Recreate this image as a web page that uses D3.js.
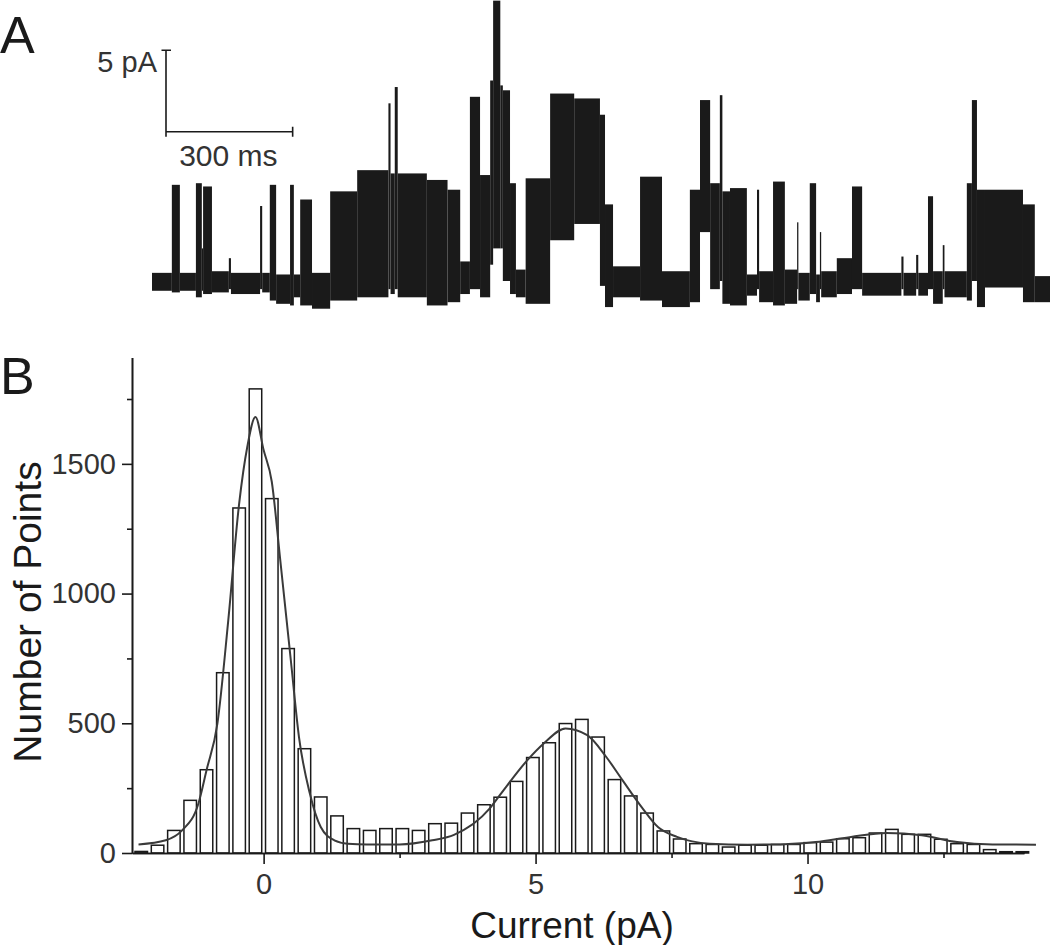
<!DOCTYPE html>
<html lang="en">
<head>
<meta charset="UTF-8">
<title>Single channel trace and amplitude histogram</title>
<style>
  body { margin: 0; background: #fff; }
  svg { display: block; font-family: "Liberation Sans", Arial, Helvetica, sans-serif; }
</style>
</head>
<body>
<svg id="fig" width="1050" height="945"></svg>
<script src="https://d3js.org/d3.v7.min.js"></script>
<script>
// Panel A: recording read as blocks [start ms, end ms, low pA, high pA]
var traceBlocks = [
  [0, 47, -0.6, 0.5], [47, 66, -0.7, 5.9], [66, 104, -0.6, 0.5], [104, 118, -1.0, 6.0],
  [118, 121, -0.6, 2.0], [121, 142, -0.8, 5.8], [142, 182, -0.7, 0.6], [182, 187, -0.5, 1.4],
  [187, 256, -0.8, 0.5], [256, 261, -0.5, 4.6], [261, 279, -0.7, 0.5], [279, 294, -1.2, 5.9],
  [294, 327, -1.4, 0.4], [327, 336, -1.5, 5.9], [336, 351, -1.0, 0.4], [351, 379, -1.5, 5.0],
  [379, 422, -1.7, 0.5], [422, 486, -1.2, 5.5], [486, 560, -1.0, 6.8], [560, 565, -0.5, 10.9],
  [565, 575, -0.8, 6.6], [575, 582, -0.5, 11.9], [582, 651, -1.0, 6.6], [651, 700, -1.5, 6.2],
  [700, 730, -1.3, 5.6], [730, 753, -0.8, 1.2], [753, 777, -0.5, 11.3], [777, 801, -1.0, 6.5],
  [801, 808, 1.0, 12.3], [808, 825, 2.0, 17.2], [825, 831, 2.0, 12.0], [831, 848, 0.0, 11.7],
  [848, 862, -0.8, 6.0], [862, 885, -1.0, 0.7], [885, 943, -1.4, 6.3], [943, 1000, 2.5, 11.5],
  [1000, 1061, 3.5, 11.2], [1061, 1073, -0.3, 10.2], [1073, 1092, -1.6, 4.7], [1092, 1156, -1.0, 0.9],
  [1156, 1208, -1.2, 6.4], [1208, 1274, -1.6, 0.6], [1274, 1298, -1.3, 5.6], [1298, 1322, 3.0, 11.1],
  [1322, 1345, -0.5, 6.0], [1345, 1351, 0.0, 11.4], [1351, 1369, -1.4, 5.5], [1369, 1409, -1.5, 5.7],
  [1409, 1433, -0.9, 0.4], [1433, 1438, -0.5, 5.6], [1438, 1471, -1.3, 0.6], [1471, 1499, -1.5, 6.1],
  [1499, 1528, -1.4, 0.7], [1528, 1531, -0.5, 3.6], [1531, 1558, -1.2, 0.5], [1558, 1573, -0.8, 6.0],
  [1573, 1582, -1.3, 0.4], [1582, 1585, -0.5, 3.0], [1585, 1622, -1.0, 0.6], [1622, 1658, -0.8, 1.4],
  [1658, 1682, -0.5, 5.8], [1682, 1775, -0.9, 0.5], [1775, 1780, -0.5, 1.5], [1780, 1810, -0.9, 0.5],
  [1810, 1815, -0.5, 1.6], [1815, 1838, -0.9, 0.5], [1838, 1850, -0.5, 5.2], [1850, 1873, -1.4, 0.6],
  [1873, 1877, -0.5, 2.2], [1877, 1930, -1.0, 0.6], [1930, 1942, -1.2, 6.0], [1942, 1954, 0.0, 11.1],
  [1954, 1973, -1.6, 5.6], [1973, 2063, -0.4, 5.6], [2063, 2091, -1.3, 4.7], [2091, 2127, -1.3, 0.3]
];

// Panel B: amplitude histogram (bin centre in pA, number of points)
var binCenters = [-2.25, -1.95, -1.65, -1.35, -1.05, -0.75, -0.45, -0.15, 0.15, 0.45, 0.75,
  1.05, 1.35, 1.65, 1.95, 2.25, 2.55, 2.85, 3.15, 3.45, 3.75, 4.05, 4.35, 4.65, 4.95, 5.25,
  5.55, 5.85, 6.15, 6.45, 6.75, 7.05, 7.35, 7.65, 7.95, 8.25, 8.55, 8.85, 9.15, 9.45, 9.75,
  10.05, 10.35, 10.65, 10.95, 11.25, 11.55, 11.85, 12.15, 12.45, 12.75, 13.05, 13.35, 13.65, 13.95];
var binCounts = [6, 30, 87, 203, 321, 695, 1330, 1789, 1366, 788, 402,
  216, 143, 94, 87, 94, 94, 87, 113, 115, 154, 186, 215, 276, 368, 425,
  499, 515, 447, 283, 220, 154, 85, 54, 36, 33, 23, 30, 30, 33, 33,
  40, 42, 55, 59, 77, 91, 72, 72, 53, 36, 33, 13, 5, 5];

// fitted curve
var fitCurrent = [-2.3, -1.8, -1.5, -1.2, -1.05, -0.85, -0.65, -0.45, -0.3, -0.15, 0, 0.15, 0.3,
  0.5, 0.65, 0.85, 1.05, 1.3, 1.55, 1.9, 2.5, 3.1, 3.5, 4.15, 4.35, 4.85, 5.15, 5.55, 5.95,
  6.3, 6.6, 6.95, 7.25, 7.6, 8.2, 8.9, 9.5, 10.15, 10.8, 11.45, 12.1, 12.75, 13.4, 14.2];
var fitCount = [33, 49, 87, 190, 319, 499, 897, 1347, 1566, 1681, 1553, 1431, 1141,
  743, 447, 229, 100, 49, 36, 33, 33, 49, 70, 170, 225, 358, 422, 480, 454,
  370, 280, 177, 100, 62, 36, 32, 33, 42, 62, 77, 68, 42, 33, 32];

var xTicks = [0, 5, 10], xMinor = [2.5, 7.5, 12.5];
var yTicks = [0, 500, 1000, 1500], yMinor = [250, 750, 1250, 1750];

var svg = d3.select("#fig");
var ink = "#1a1a1a";

// ---------- panel A ----------
var tx = d3.scaleLinear().domain([0, 2127]).range([152, 1050]);
var ty = d3.scaleLinear().domain([0, 5]).range([281, 199.5]);

svg.append("g").selectAll("rect")
  .data(traceBlocks)
  .join("rect")
  .attr("x", d => tx(d[0]))
  .attr("width", d => Math.max(1.2, tx(d[1]) - tx(d[0])))
  .attr("y", d => ty(d[3]))
  .attr("height", d => ty(d[2]) - ty(d[3]))
  .attr("fill", ink);

// scale bars: 5 pA and 300 ms
var sb = svg.append("g").attr("stroke", ink).attr("stroke-width", 1.6).attr("fill", "none");
var sx0 = 166, sy0 = 131.7;
var barH = ty(0) - ty(5), barW = tx(300) - tx(0);
sb.append("path").attr("d",
  "M" + sx0 + "," + (sy0 + 5) + "V" + (sy0 - barH) +
  "M" + (sx0 - 4.5) + "," + (sy0 - barH) + "H" + (sx0 + 5) +
  "M" + sx0 + "," + sy0 + "H" + (sx0 + barW) +
  "M" + (sx0 + barW) + "," + (sy0 - 5) + "V" + (sy0 + 5));
svg.append("text").attr("x", 157).attr("y", 72).attr("text-anchor", "end")
  .attr("font-size", 29).attr("fill", "#333").text("5 pA");
svg.append("text").attr("x", sx0 + barW / 2 - 1).attr("y", 166).attr("text-anchor", "middle")
  .attr("font-size", 30).attr("fill", "#333").text("300 ms");

svg.append("text").attr("x", 0).attr("y", 53).attr("font-size", 52).attr("fill", ink).text("A");
svg.append("text").attr("x", 0).attr("y", 394).attr("font-size", 52).attr("fill", ink).text("B");

// ---------- panel B ----------
var x = d3.scaleLinear().domain([-2.42, 13.98]).range([132, 1024]);
var y = d3.scaleLinear().domain([0, 1910]).range([853, 357.5]);
var halfW = 0.115;

svg.append("g").selectAll("rect")
  .data(binCenters)
  .join("rect")
  .attr("x", (d) => x(d - halfW))
  .attr("width", x(halfW) - x(-halfW))
  .attr("y", (d, i) => y(binCounts[i]))
  .attr("height", (d, i) => y(0) - y(binCounts[i]))
  .attr("fill", "white")
  .attr("stroke", ink)
  .attr("stroke-width", 1.5);

var fitLine = d3.line()
  .x(d => x(d[0]))
  .y(d => y(d[1]))
  .curve(d3.curveMonotoneX);
svg.append("path")
  .datum(d3.zip(fitCurrent, fitCount))
  .attr("d", fitLine)
  .attr("fill", "none")
  .attr("stroke", "#3a3a3a")
  .attr("stroke-width", 2);

function styleAxis(g) {
  g.select(".domain").attr("stroke", ink).attr("stroke-width", 1.6);
  g.selectAll(".tick line").attr("stroke", ink).attr("stroke-width", 1.6);
  g.selectAll(".tick text").attr("fill", "#333").attr("font-size", 29)
    .attr("font-family", "Liberation Sans, Arial, sans-serif");
}

svg.append("g").attr("transform", "translate(0,853)")
  .call(d3.axisBottom(x).tickValues(xTicks).tickSize(11).tickPadding(9).tickSizeOuter(0))
  .call(styleAxis);
svg.append("g").attr("transform", "translate(0,853)")
  .call(d3.axisBottom(x).tickValues(xMinor).tickSize(5).tickFormat("").tickSizeOuter(0))
  .call(styleAxis);

svg.append("g").attr("transform", "translate(132,0)")
  .call(d3.axisLeft(y).tickValues(yTicks).tickSize(10).tickPadding(6).tickSizeOuter(0)
    .tickFormat(d3.format("d")))
  .call(styleAxis);
svg.append("g").attr("transform", "translate(132,0)")
  .call(d3.axisLeft(y).tickValues(yMinor).tickSize(5).tickFormat("").tickSizeOuter(0))
  .call(styleAxis);

svg.append("text")
  .attr("x", 572).attr("y", 938)
  .attr("text-anchor", "middle").attr("font-size", 37).attr("fill", ink)
  .text("Current (pA)");
svg.append("text")
  .attr("transform", "translate(41,612) rotate(-90)")
  .attr("text-anchor", "middle").attr("font-size", 39).attr("fill", ink)
  .text("Number of Points");
</script>
</body>
</html>
